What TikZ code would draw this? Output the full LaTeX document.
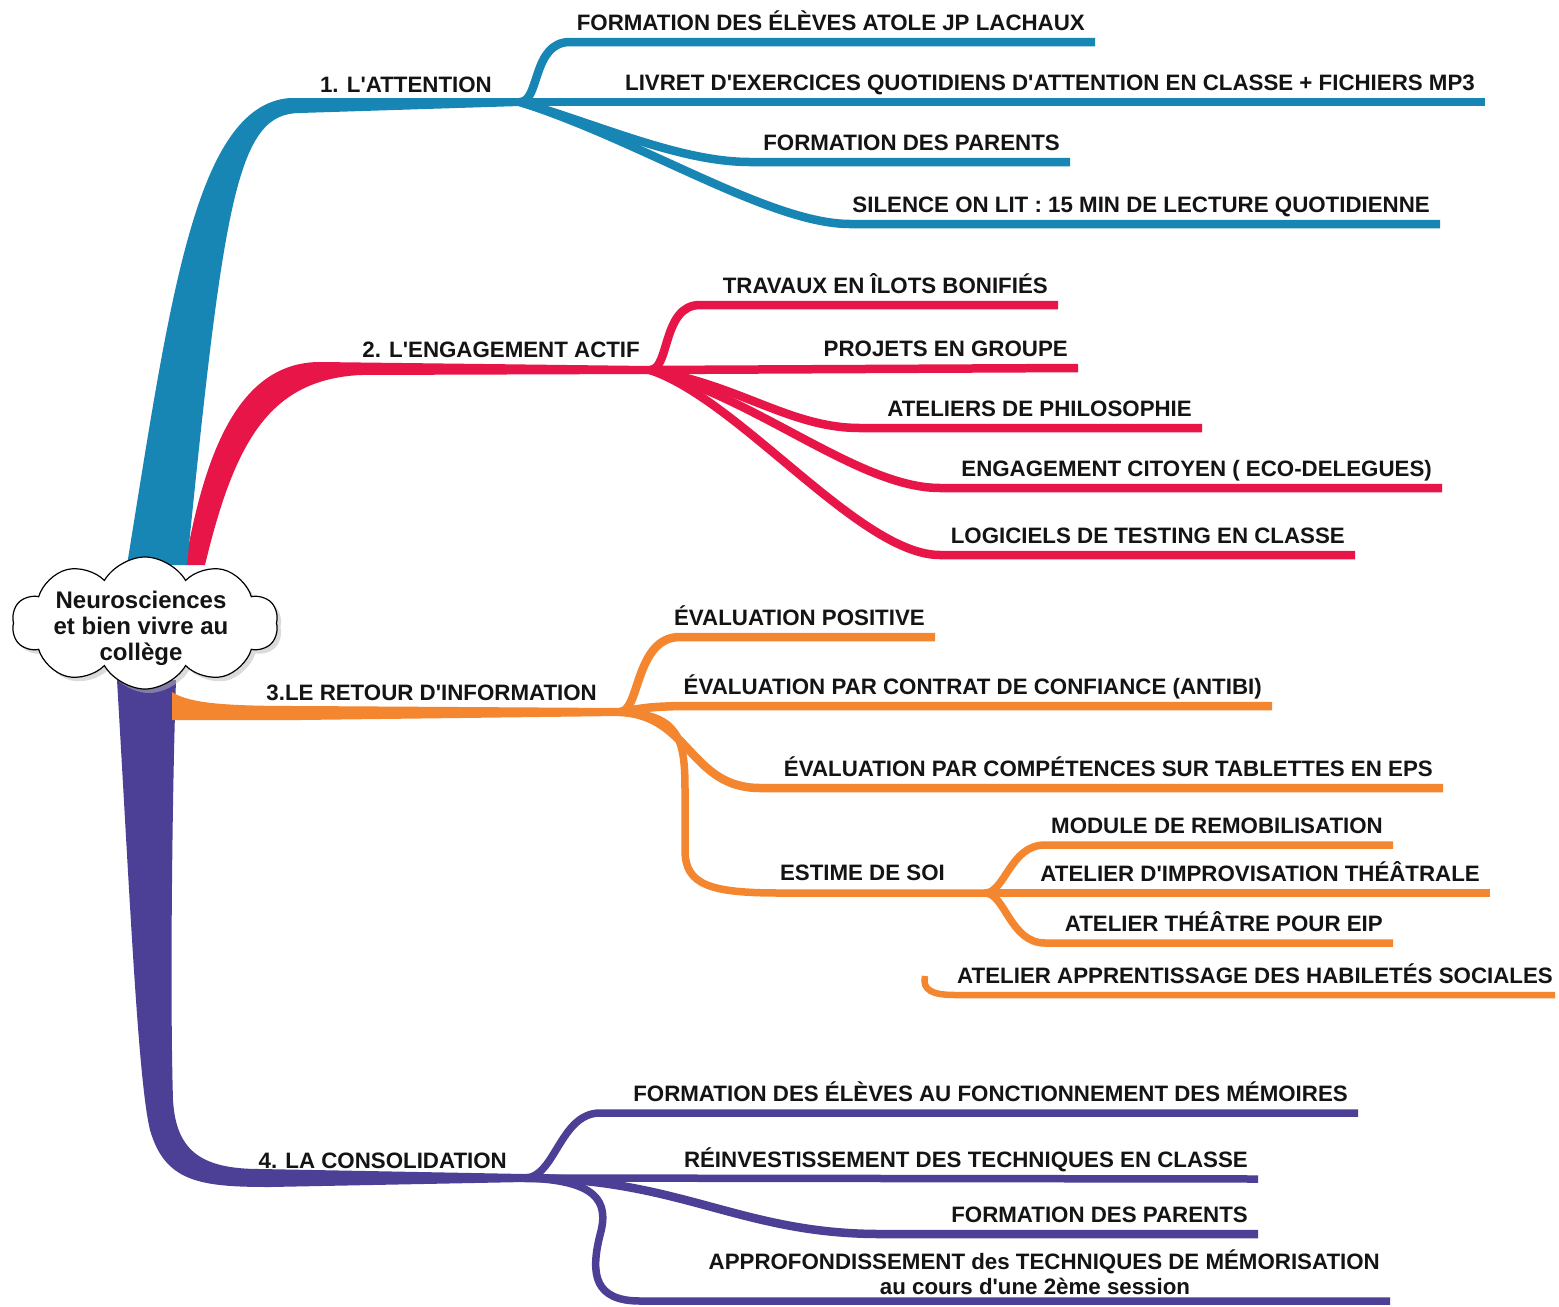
\documentclass[tikz,border=0pt]{standalone}
\usepackage{fontspec}
\setmainfont{Liberation Sans}[Ligatures=TeXOff]
\usetikzlibrary{shapes.symbols,shadows,calc}
\definecolor{cblue}{RGB}{24,134,180}
\definecolor{cred}{RGB}{232,22,72}
\definecolor{corange}{RGB}{244,134,48}
\definecolor{cpurple}{RGB}{76,64,150}
\definecolor{ctext}{RGB}{20,20,20}
\begin{document}
\begin{tikzpicture}[x=1pt,y=-1pt,
  lab/.style={font=\bfseries\fontsize{22.3}{26}\selectfont, text=ctext, inner sep=0pt},
  sublab/.style={lab, anchor=base east},
  subbr/.style={line width=8.5pt, line cap=butt},
  bl/.style={subbr, draw=cblue},
  rd/.style={subbr, draw=cred},
  og/.style={subbr, draw=corange},
  pu/.style={subbr, draw=cpurple, line width=7.5pt}]
\useasboundingbox[fill=white] (0,0) rectangle (1559,1307);

% junctions
\coordinate (J1) at (520,102);
\coordinate (J2) at (650,370);
\coordinate (J3) at (620,712);
\coordinate (J4) at (985,893);
\coordinate (J5) at (525,1178);

% ---------- trunks ----------
% purple
\fill[cpurple] (117,680) .. controls (130,900) and (138,1080) .. (150,1130)
  .. controls (165,1182) and (200,1187) .. (270,1187) -- ([yshift=-4pt]J5)
  -- ([yshift=4pt]J5) -- (260,1169) .. controls (200,1169) and (176,1150) .. (173,1100)
  .. controls (170,1000) and (172,800) .. (176,680) -- cycle;
% orange
\fill[corange] (172,692) .. controls (190,704) and (230,706) .. (300,706) -- ([yshift=4pt]J3)
  -- ([yshift=-4pt]J3) -- (300,720) -- (172,720) -- cycle;
% red
\fill[cred] (185,565) .. controls (205,450) and (240,362) .. (320,362) -- ([yshift=4pt]J2)
  -- ([yshift=-4pt]J2) -- (360,375) .. controls (270,380) and (235,440) .. (205,565) -- cycle;
% blue
\fill[cblue] (127,565) .. controls (170,300) and (195,105) .. (290,98) -- ([yshift=4pt]J1)
  -- ([yshift=-4pt]J1) -- (300,113) .. controls (238,113) and (224,195) .. (187,565) -- cycle;

% ---------- 1. attention ----------
\coordinate (b1e) at (1095,42);
\coordinate (b2e) at (1485,102);
\coordinate (b3e) at (1070,162);
\coordinate (b4e) at (1440,224);
\draw[bl] (J1) .. controls (540,102) and (532,42) .. (570,42) -- (b1e);
\draw[bl] (J1) -- (b2e);
\draw[bl] (J1) .. controls (600,125) and (680,162) .. (750,162) -- (b3e);
\draw[bl] (J1) .. controls (640,140) and (770,224) .. (850,224) -- (b4e);
\node[lab, anchor=base east] (m1) at (492,92) {1. L'ATTENTION};
\node[sublab] (t11) at ($(b1e)+(-10,-12)$) {FORMATION DES ÉLÈVES ATOLE JP LACHAUX};
\node[sublab] (t12) at ($(b2e)+(-10,-12)$) {LIVRET D'EXERCICES QUOTIDIENS D'ATTENTION EN CLASSE + FICHIERS MP3};
\node[sublab] (t13) at ($(b3e)+(-10,-12)$) {FORMATION DES PARENTS};
\node[sublab] (t14) at ($(b4e)+(-10,-12)$) {SILENCE ON LIT : 15 MIN DE LECTURE QUOTIDIENNE};

% ---------- 2. engagement ----------
\coordinate (r1e) at (1058,305);
\coordinate (r2e) at (1078,368);
\coordinate (r3e) at (1202,428);
\coordinate (r4e) at (1442,488);
\coordinate (r5e) at (1355,555);
\draw[rd] (J2) .. controls (670,370) and (662,305) .. (700,305) -- (r1e);
\draw[rd] (J2) -- (r2e);
\draw[rd] (J2) .. controls (740,385) and (790,428) .. (860,428) -- (r3e);
\draw[rd] (J2) .. controls (760,400) and (860,488) .. (940,488) -- (r4e);
\draw[rd] (J2) .. controls (740,400) and (860,555) .. (940,555) -- (r5e);
\node[lab, anchor=base east] (m2) at (640,357) {2. L'ENGAGEMENT ACTIF};
\node[sublab] (t21) at ($(r1e)+(-10,-12)$) {TRAVAUX EN ÎLOTS BONIFIÉS};
\node[sublab] (t22) at ($(r2e)+(-10,-12)$) {PROJETS EN GROUPE};
\node[sublab] (t23) at ($(r3e)+(-10,-12)$) {ATELIERS DE PHILOSOPHIE};
\node[sublab] (t24) at ($(r4e)+(-10,-12)$) {ENGAGEMENT CITOYEN ( ECO-DELEGUES)};
\node[sublab] (t25) at ($(r5e)+(-10,-12)$) {LOGICIELS DE TESTING EN CLASSE};

% ---------- 3. retour ----------
\coordinate (o1e) at (935,637);
\coordinate (o2e) at (1272,706);
\coordinate (o3e) at (1443,788);
\coordinate (e1e) at (1393,845);
\coordinate (e2e) at (1490,893);
\coordinate (e3e) at (1393,943);
\coordinate (e4s) at (925,976);
\coordinate (e4e) at (1555,995);
\draw[og] (J3) .. controls (640,712) and (635,637) .. (680,637) -- (o1e);
\draw[og] (J3) .. controls (650,707) .. (680,706) -- (o2e);
\draw[og] (J3) .. controls (690,715) and (690,788) .. (760,788) -- (o3e);
\draw[og, line width=7.5pt] (J3) .. controls (680,714) and (685,740) .. (685,790) -- (685,850)
  .. controls (685,885) and (710,893) .. (780,893) -- (J4);
\draw[og, line width=7.5pt] (J4) .. controls (1005,893) and (1010,845) .. (1045,845) -- (e1e);
\draw[og, line width=7.5pt] (J4) -- (e2e);
\draw[og, line width=7.5pt] (J4) .. controls (1005,893) and (1010,943) .. (1045,943) -- (e3e);
\draw[og, line width=6.5pt] (e4s) .. controls (922,990) and (932,995) .. (955,995) -- (e4e);
\node[lab, anchor=base east] (m3) at (597,700) {3.LE RETOUR D'INFORMATION};
\node[lab, anchor=base east] (m31) at (945,880) {ESTIME DE SOI};
\node[sublab] (t31) at ($(o1e)+(-10,-12)$) {ÉVALUATION POSITIVE};
\node[sublab] (t32) at ($(o2e)+(-10,-12)$) {ÉVALUATION PAR CONTRAT DE CONFIANCE (ANTIBI)};
\node[sublab] (t33) at ($(o3e)+(-10,-12)$) {ÉVALUATION PAR COMPÉTENCES SUR TABLETTES EN EPS};
\node[sublab] (t34) at ($(e1e)+(-10,-12)$) {MODULE DE REMOBILISATION};
\node[sublab] (t35) at ($(e2e)+(-10,-12)$) {ATELIER D'IMPROVISATION THÉÂTRALE};
\node[sublab] (t36) at ($(e3e)+(-10,-12)$) {ATELIER THÉÂTRE POUR EIP};
\node[sublab] (t37) at ($(e4e)+(-2,-12)$) {ATELIER APPRENTISSAGE DES HABILETÉS SOCIALES};

% ---------- 4. consolidation ----------
\coordinate (p1e) at (1358,1113);
\coordinate (p2e) at (1258,1179);
\coordinate (p3e) at (1258,1234);
\coordinate (p4e) at (1390,1301);
\draw[pu] (J5) .. controls (555,1178) and (560,1113) .. (600,1113) -- (p1e);
\draw[pu] (J5) -- (p2e);
\draw[pu, line width=8.5pt] (J5) .. controls (680,1178) and (740,1234) .. (880,1234) -- (p3e);
\draw[pu] (J5) .. controls (595,1180) and (610,1200) .. (600,1235)
  .. controls (590,1275) and (595,1301) .. (640,1301) -- (p4e);
\node[lab, anchor=base east] (m4) at (507,1168) {4. LA CONSOLIDATION};
\node[sublab] (t41) at ($(p1e)+(-10,-12)$) {FORMATION DES ÉLÈVES AU FONCTIONNEMENT DES MÉMOIRES};
\node[sublab] (t42) at ($(p2e)+(-10,-12)$) {RÉINVESTISSEMENT DES TECHNIQUES EN CLASSE};
\node[sublab] (t43) at ($(p3e)+(-10,-12)$) {FORMATION DES PARENTS};
\node[lab, anchor=base east] (t44) at (1380,1269) {APPROFONDISSEMENT des TECHNIQUES DE MÉMORISATION};
\node[lab, anchor=base] (t45) at (1035,1294) {au cours d'une 2ème session};

% ---------- central cloud ----------
\node[cloud, cloud puffs=10, cloud puff arc=120, aspect=2, draw=black, line width=1.2pt,
  fill=white, inner sep=0pt, minimum width=266pt, minimum height=132pt,
  drop shadow={shadow xshift=4pt, shadow yshift=-4pt, fill=gray!55}] (C) at (145,623) {};
\node[font=\bfseries\fontsize{24}{26}\selectfont, text=ctext, align=center, inner sep=0pt] (Ct) at (141,628)
  {Neurosciences\\et bien vivre au\\collège};
\end{tikzpicture}
\end{document}
